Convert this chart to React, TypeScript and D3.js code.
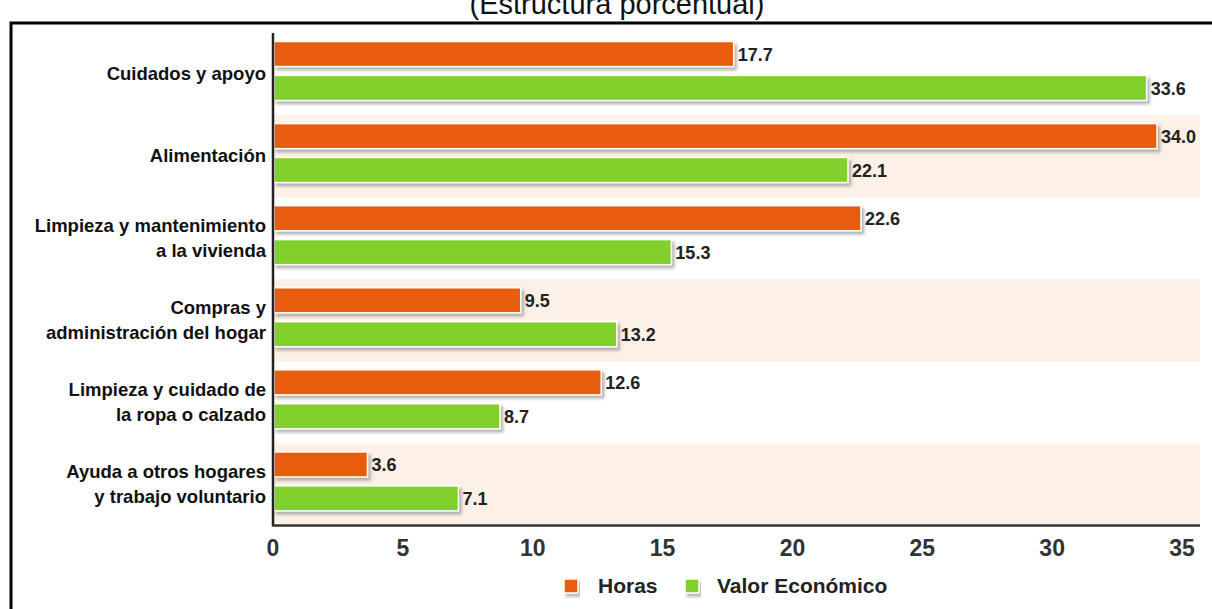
import React from "react";
import * as d3 from "d3";

const categories: string[][] = [
  ["Cuidados y apoyo"],
  ["Alimentación"],
  ["Limpieza y mantenimiento", "a la vivienda"],
  ["Compras y", "administración del hogar"],
  ["Limpieza y cuidado de", "la ropa o calzado"],
  ["Ayuda a otros hogares", "y trabajo voluntario"],
];
const horas: number[] = [17.7, 34.0, 22.6, 9.5, 12.6, 3.6];
const valor: number[] = [33.6, 22.1, 15.3, 13.2, 8.7, 7.1];
const xTicks: number[] = [0, 5, 10, 15, 20, 25, 30, 35];
const seriesNames = ["Horas", "Valor Económico"];
const colors = ["#E85C10", "#80CF2A"];

const W = 1212;
const H = 609;
const FONT = "'Liberation Sans', Arial, sans-serif";

export default function App() {
  const x = d3.scaleLinear().domain([0, 35]).range([273, 1182]);
  const keys = categories.map((c) => c.join(" "));
  const y = d3.scaleBand<string>().domain(keys).range([33, 525.5]).padding(0);
  const sub = d3
    .scaleBand<string>()
    .domain(seriesNames)
    .range([8.5, 67.5])
    .paddingInner(0.26)
    .paddingOuter(0);
  const series = [horas, valor];

  return (
    <svg
      width={W}
      height={H}
      style={{ position: "absolute", left: 0, top: 0, display: "block", background: "#fff" }}
    >
      <defs>
        <filter id="sh" x="-5%" y="-30%" width="115%" height="180%">
          <feDropShadow dx="2.5" dy="3" stdDeviation="1.5" floodColor="#777" floodOpacity="0.55" />
        </filter>
      </defs>
      {/* title */}
      <text x={617} y={14} textAnchor="middle" fontFamily={FONT} fontSize={29} fill="#111">
        (Estructura porcentual)
      </text>
      {/* frame */}
      <rect x={11} y={23} width={1210} height={600} fill="none" stroke="#000" strokeWidth={3} />
      {/* alternating bands */}
      {keys.map((k, i) =>
        i % 2 === 1 ? (
          <rect key={k} x={274} y={y(k)!} width={926} height={y.bandwidth()} fill="#FDF0E6" />
        ) : null
      )}
      {/* bars */}
      {keys.map((k, i) =>
        series.map((s, j) => {
          const by = y(k)! + sub(seriesNames[j])!;
          return (
            <g key={k + j}>
              <rect
                x={x(0) + 1}
                y={by}
                width={x(s[i]) - x(0)}
                height={sub.bandwidth()}
                fill={colors[j]}
                stroke="#fff"
                strokeWidth={1.5}
                filter="url(#sh)"
              />
              <text
                x={x(s[i]) + 5}
                y={by + sub.bandwidth() / 2 + 7}
                fontFamily={FONT}
                fontWeight="bold"
                fontSize={18}
                fill="#222"
              >
                {s[i].toFixed(1)}
              </text>
            </g>
          );
        })
      )}
      {/* axes */}
      <line x1={273} x2={273} y1={33} y2={526} stroke="#222" strokeWidth={2.5} />
      <line x1={272} x2={1200} y1={525.5} y2={525.5} stroke="#333" strokeWidth={2.5} />
      {xTicks.map((t) => (
        <text
          key={t}
          x={x(t)}
          y={556}
          textAnchor="middle"
          fontFamily={FONT}
          fontWeight="bold"
          fontSize={23}
          fill="#333"
        >
          {t}
        </text>
      ))}
      {/* category labels */}
      {categories.map((lines, i) => {
        const cy = y(keys[i])! + y.bandwidth() / 2;
        const n = lines.length;
        return (
          <text
            key={keys[i]}
            textAnchor="end"
            fontFamily={FONT}
            fontWeight="bold"
            fontSize={18.5}
            fill="#111"
          >
            {lines.map((ln, li) => (
              <tspan key={li} x={266} y={cy + 6 + (li - (n - 1) / 2) * 25}>
                {ln}
              </tspan>
            ))}
          </text>
        );
      })}
      {/* legend */}
      {[
        { x: 564, tx: 598 },
        { x: 685, tx: 717 },
      ].map((p, j) => (
        <g key={j}>
          <rect
            x={p.x}
            y={579}
            width={14}
            height={14}
            fill={colors[j]}
            stroke="#fff"
            strokeWidth={1.5}
            filter="url(#sh)"
          />
          <text x={p.tx} y={593} fontFamily={FONT} fontWeight="bold" fontSize={21} fill="#222">
            {seriesNames[j]}
          </text>
        </g>
      ))}
    </svg>
  );
}
